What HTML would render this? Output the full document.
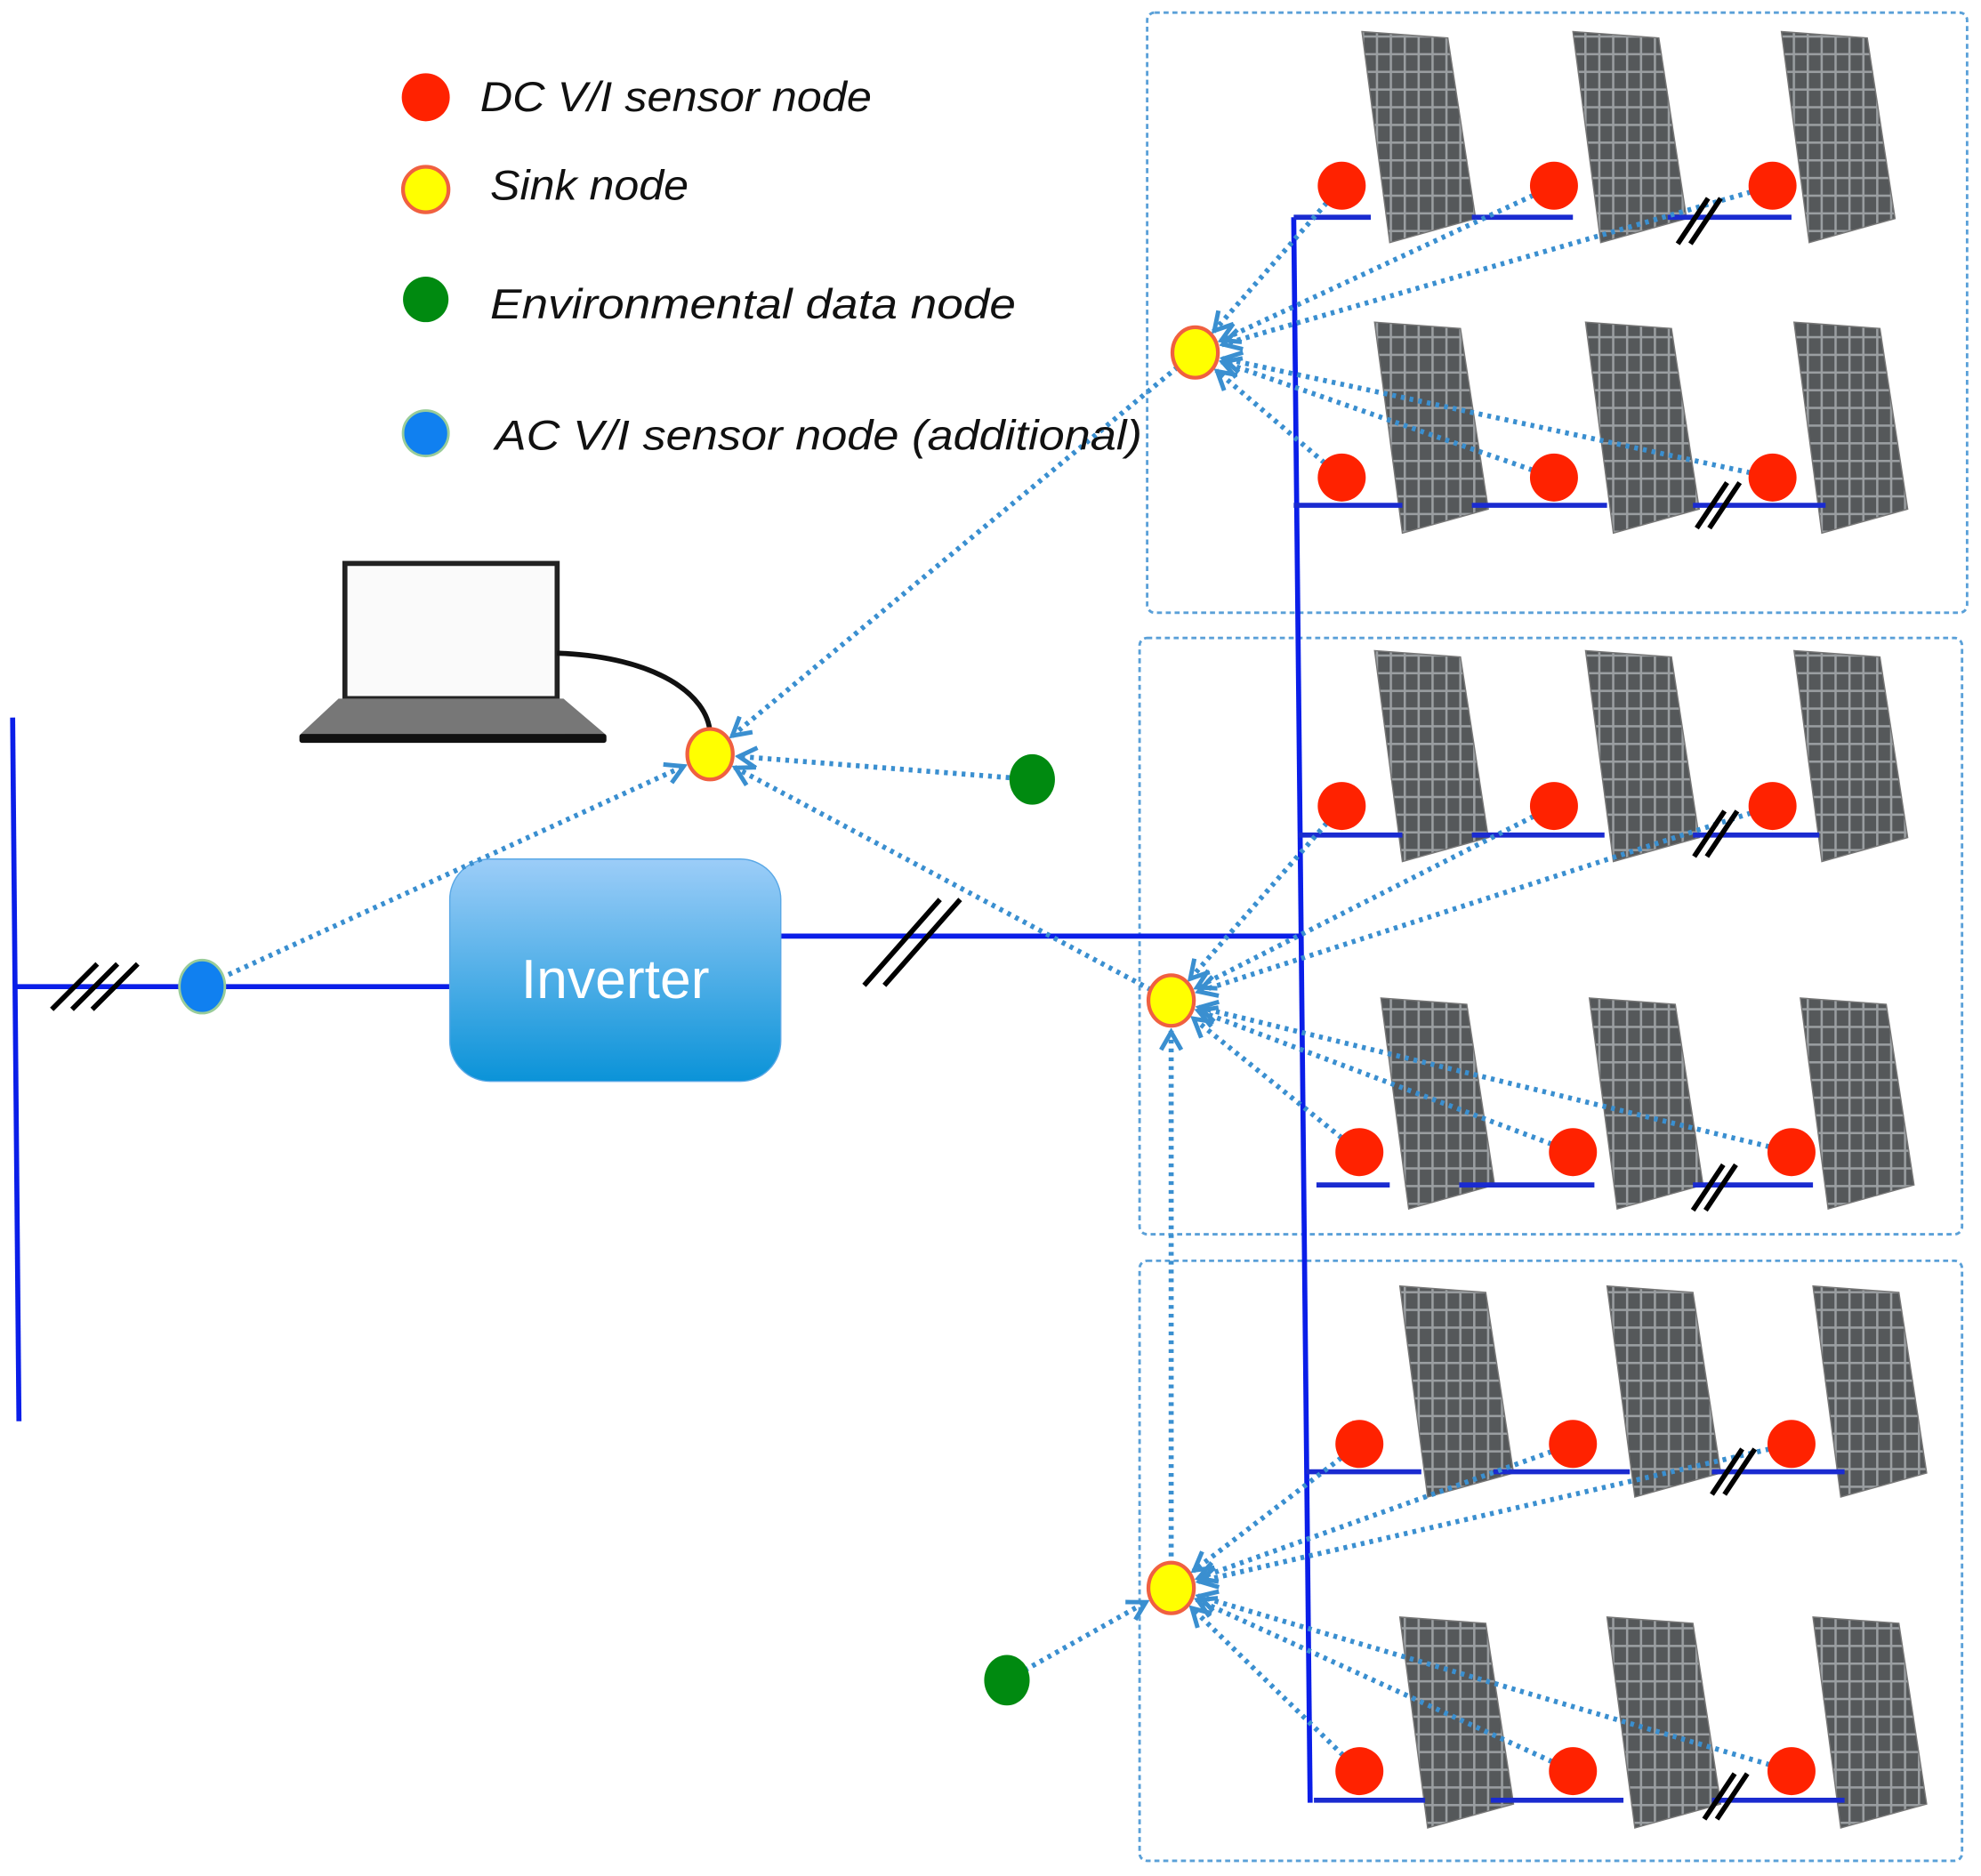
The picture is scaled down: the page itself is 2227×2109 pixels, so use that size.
<!DOCTYPE html>
<html><head><meta charset="utf-8"><style>
html,body{margin:0;padding:0;background:#fff;}
svg{display:block;}
text{font-family:"Liberation Sans","DejaVu Sans",sans-serif;}
</style></head><body>
<svg id="s" width="2227" height="2109" viewBox="0 0 1568 1485" preserveAspectRatio="none" xmlns="http://www.w3.org/2000/svg">
<defs>
<pattern id="grid" width="11" height="14" patternUnits="userSpaceOnUse">
<rect width="11" height="14" fill="#55585a"/>
<rect x="0" y="0" width="1.8" height="14" fill="#9a9ea1"/>
<rect x="0" y="0" width="11" height="1.8" fill="#9a9ea1"/>
</pattern>
<linearGradient id="inv" x1="0" y1="0" x2="0" y2="1">
<stop offset="0" stop-color="#9ccdf8"/><stop offset="1" stop-color="#0b93d8"/>
</linearGradient>
<marker id="ah" viewBox="0 0 20 20" refX="18" refY="10" markerWidth="20" markerHeight="20" orient="auto" markerUnits="userSpaceOnUse">
<path d="M3,2 L17,10 L3,18" fill="none" stroke="#3a8fd0" stroke-width="3.5"/>
</marker>
</defs>
<rect width="1568" height="1485" fill="#fff"/>
<g fill="none" stroke="#5aa0d8" stroke-width="2" stroke-dasharray="4 3">
<rect x="908" y="10" width="649" height="475" rx="6"/>
<rect x="902" y="505" width="651" height="472" rx="6"/>
<rect x="902" y="998" width="651" height="475" rx="6"/>
</g>
<g id="panels"></g>
<g stroke="#0a1ee8" stroke-width="4" fill="none">
<line x1="1024" y1="172" x2="1037" y2="1427"/>
<line x1="618" y1="741" x2="1028" y2="741"/>
<line x1="12" y1="781" x2="356" y2="781"/>
<line x1="10" y1="568" x2="15" y2="1125"/>
</g>
<g id="hb" stroke="#1a2bd0" stroke-width="4"></g>
<rect x="273" y="446" width="168" height="107" fill="#fafafa" stroke="#222" stroke-width="4"/>
<polygon points="268,553 446,553 480,582 237,582" fill="#777"/>
<rect x="237" y="581" width="243" height="7" fill="#111" rx="2"/>
<path d="M441,517 C520,520 560,550 562,580" fill="none" stroke="#111" stroke-width="4"/>
<rect x="356" y="680" width="262" height="176" rx="32" fill="url(#inv)" stroke="#5aa8e6" stroke-width="1"/>
<text x="487" y="790" font-size="44" fill="#fff" text-anchor="middle">Inverter</text>
<g id="lines" fill="none" stroke="#3a8fd0" stroke-width="4" stroke-dasharray="3 4"></g>
<g id="nodes"></g>
<g id="breaks" stroke="#000" stroke-width="4"></g>
<circle cx="337" cy="77" r="19" fill="#ff2200"/>
<circle cx="337" cy="150" r="18" fill="#ffff00" stroke="#f06040" stroke-width="3"/>
<circle cx="337" cy="237" r="18" fill="#008a10"/>
<circle cx="337" cy="343" r="18" fill="#1080f0" stroke="#9c9" stroke-width="2"/>
<g font-style="italic" font-size="33" fill="#111">
<text x="380" y="88" textLength="310" lengthAdjust="spacingAndGlyphs">DC V/I sensor node</text>
<text x="388" y="158" textLength="157" lengthAdjust="spacingAndGlyphs">Sink node</text>
<text x="388" y="252" textLength="416" lengthAdjust="spacingAndGlyphs">Environmental data node</text>
<text x="392" y="356" textLength="512" lengthAdjust="spacingAndGlyphs">AC V/I sensor node (additional)</text>
</g>
</svg>
<script>
var NS="http://www.w3.org/2000/svg";
function el(p,t,a){var e=document.createElementNS(NS,t);for(var k in a)e.setAttribute(k,a[k]);document.getElementById(p).appendChild(e);return e;}
[[1078,25],[1245,25],[1410,25],[1088,255],[1255,255],[1420,255],
 [1088,515],[1255,515],[1420,515],[1093,790],[1258,790],[1425,790],
 [1108,1018],[1272,1018],[1435,1018],[1108,1280],[1272,1280],[1435,1280]].forEach(function(p){
 var x=p[0],y=p[1];
 el("panels","polygon",{points:(x)+","+y+" "+(x+68)+","+(y+5)+" "+(x+90)+","+(y+148)+" "+(x+22)+","+(y+167),fill:"url(#grid)",stroke:"#777","stroke-width":1});
});
var rows=[[172,[[1024,1085],[1165,1245],[1320,1418]]],[400,[[1024,1110],[1165,1272],[1340,1445]]],
[661,[[1028,1110],[1165,1270],[1340,1440]]],[938,[[1042,1100],[1155,1262],[1340,1435]]],
[1165,[[1034,1125],[1182,1290],[1355,1460]]],[1425,[[1040,1128],[1180,1285],[1355,1460]]]];
rows.forEach(function(r){r[1].forEach(function(s){el("hb","line",{x1:s[0],y1:r[0],x2:s[1],y2:r[0]});});});
[[1345,175],[1360,400],[1358,660],[1357,940],[1372,1165],[1366,1422]].forEach(function(b){
 for(var i=-1;i<=1;i+=2){var ox=b[0]+i*5;el("breaks","line",{x1:ox-12,y1:b[1]+18,x2:ox+12,y2:b[1]-18});}
});
for(var i=-1;i<=1;i+=2){var ox=722+i*8;el("breaks","line",{x1:ox-30,y1:780,x2:ox+30,y2:712});}
for(var i=-1;i<=1;i++){var ox=75+i*16;el("breaks","line",{x1:ox-18,y1:799,x2:ox+18,y2:763});}
function conn(a,b,ra,rb,arrow){
 var dx=b[0]-a[0],dy=b[1]-a[1],L=Math.sqrt(dx*dx+dy*dy);
 var x1=a[0]+dx/L*ra,y1=a[1]+dy/L*ra,x2=b[0]-dx/L*rb,y2=b[1]-dy/L*rb;
 var at={x1:x1,y1:y1,x2:x2,y2:y2};if(arrow)at["marker-end"]="url(#ah)";
 el("lines","line",at);
}
var S1=[946,279],S2=[927,792],S3=[927,1257],SM=[562,597];
var g1=[[1062,147],[1230,147],[1403,147],[1062,378],[1230,378],[1403,378]];
var g2=[[1062,638],[1230,638],[1403,638],[1076,912],[1245,912],[1418,912]];
var g3=[[1076,1143],[1245,1143],[1418,1143],[1076,1402],[1245,1402],[1418,1402]];
[[g1,S1],[g2,S2],[g3,S3]].forEach(function(G){G[0].forEach(function(n){conn(n,G[1],4,22,true);});});
conn(S1,SM,18,22,true);
conn([817,617],SM,4,22,true);
conn(S2,SM,18,22,true);
conn([160,781],SM,16,22,true);
conn(S3,S2,18,24,true);
conn([797,1330],S3,16,22,true);
g1.concat(g2,g3).forEach(function(n){el("nodes","circle",{cx:n[0],cy:n[1],r:19,fill:"#ff2200"});});
[S1,S2,S3,SM].forEach(function(n){el("nodes","ellipse",{cx:n[0],cy:n[1],rx:18,ry:20,fill:"#ffff00",stroke:"#f06040","stroke-width":3});});
el("nodes","ellipse",{cx:817,cy:617,rx:18,ry:20,fill:"#008a10"});
el("nodes","ellipse",{cx:797,cy:1330,rx:18,ry:20,fill:"#008a10"});
el("nodes","ellipse",{cx:160,cy:781,rx:18,ry:21,fill:"#1080f0",stroke:"#9c9","stroke-width":2});
</script>
</body></html>
